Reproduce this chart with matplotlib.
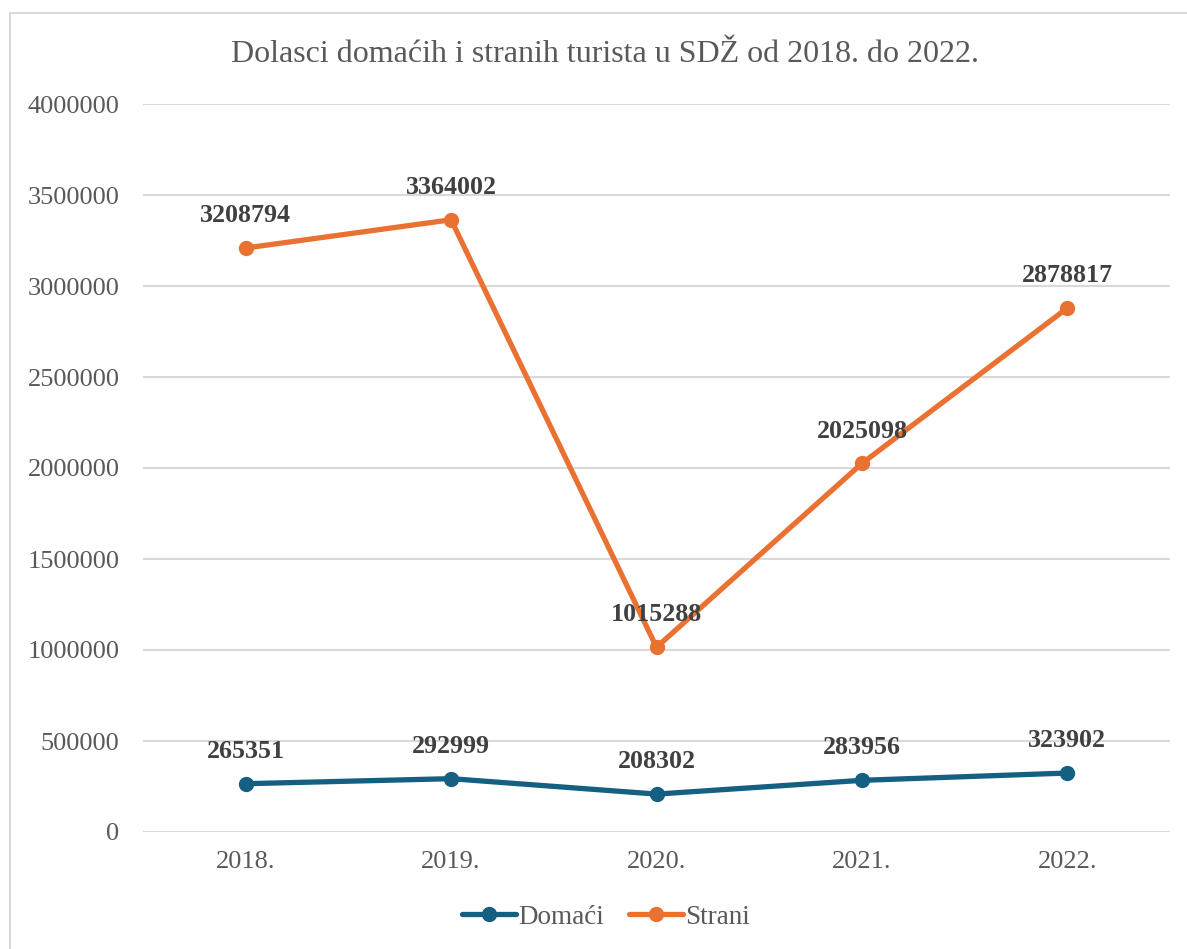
import matplotlib.pyplot as plt
from matplotlib.patches import Rectangle

years = ['2018.', '2019.', '2020.', '2021.', '2022.']
domaci = [265351, 292999, 208302, 283956, 323902]
strani = [3208794, 3364002, 1015288, 2025098, 2878817]

plt.rcParams['font.family'] = ['Liberation Serif', 'DejaVu Serif']
TXT = '#595959'

fig = plt.figure(figsize=(11.87, 9.49), dpi=100)
ax = fig.add_axes([143/1187, 1-832/949, (1170-143)/1187, (832-104)/949])

# chart border
fig.patches.append(Rectangle((10/1187, -0.01), 1.0, 1-13/949+0.01, transform=fig.transFigure,
                             fill=False, edgecolor='#D9D9D9', linewidth=1.5))

x = list(range(len(years)))
ax.plot(x, domaci, color='#156082', linewidth=3.8, marker='o', markersize=10,
        solid_capstyle='round', label='Domaći', zorder=3)
ax.plot(x, strani, color='#E97132', linewidth=3.8, marker='o', markersize=10,
        solid_capstyle='round', label='Strani', zorder=3)

for xi, v in zip(x, domaci):
    ax.annotate(str(v), (xi, v), xytext=(0, 15), textcoords='offset points',
                ha='center', va='bottom', fontsize=18.7, fontweight='bold', color='#404040')
for xi, v in zip(x, strani):
    ax.annotate(str(v), (xi, v), xytext=(0, 15), textcoords='offset points',
                ha='center', va='bottom', fontsize=18.7, fontweight='bold', color='#404040')

ax.set_xlim(-0.5, 4.5)
ax.set_ylim(0, 4000000)
ax.set_yticks(range(0, 4000001, 500000))
ax.set_yticklabels([str(t) for t in range(0, 4000001, 500000)])
ax.set_xticks(x)
ax.set_xticklabels(years)
ax.tick_params(axis='both', length=0, labelsize=19, colors=TXT)
ax.tick_params(axis='y', pad=17)
ax.tick_params(axis='x', pad=13.5)
ax.grid(axis='y', color='#D9D9D9', linewidth=1.5)
ax.set_axisbelow(True)
for s in ax.spines.values():
    s.set_visible(False)

fig.text(605/1187, 1-55/949, 'Dolasci domaćih i stranih turista u SDŽ od 2018. do 2022.',
         ha='center', va='center', fontsize=23, color=TXT)

leg = fig.legend(loc='center', bbox_to_anchor=(606/1187, 1-917/949), ncol=2, frameon=False,
                 fontsize=19.5, handlelength=2.0, columnspacing=0.9, handletextpad=0.1)
for t in leg.get_texts():
    t.set_color(TXT)

fig.savefig('out.png', dpi=100, facecolor='white')
